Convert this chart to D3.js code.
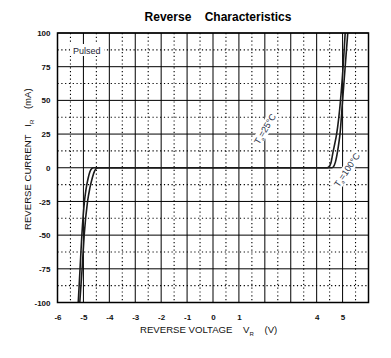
<!DOCTYPE html>
<html><head><meta charset="utf-8">
<script src="https://cdn.jsdelivr.net/npm/d3@7/dist/d3.min.js"></script>
<style>
body{margin:0;background:#fff;}
svg{display:block;font-family:"Liberation Sans",Arial,sans-serif;}
</style></head>
<body><svg id="c" width="391" height="358"></svg>
<script>
// ---- data ----
const xTickLabels = [-6,-5,-4,-3,-2,-1,0,1,4,5];
const yTickLabels = [100,75,50,25,0,-25,-50,-75,-100];
const xMajor = [-6,-5,-4,-3,-2,-1,0,1,2,3,4,5,6];
const xMinor = [-5.5,-4.5,-3.5,-2.5,-1.5,-0.5,0.5,1.5,2.5,3.5,4.5,5.5];
const yMajor = [-100,-75,-50,-25,0,25,50,75,100];
const yMinor = [-87.5,-62.5,-37.5,-12.5,12.5,37.5,62.5,87.5];
// T = 25°C curve (volts, mA)
const v25 = [-5.26,-5.2,-5.13,-5.06,-4.96,-4.9,-4.82,-4.75,-4.68,-4.6,-4.5,0,4.3,4.4,4.47,4.55,4.64,4.7,4.77,4.92,5.02,5.1,5.15];
const i25 = [-120,-100,-75,-50,-25,-16,-8,-3,-0.6,0,0,0,0,0,0.6,3.5,12.5,18,25,50,75,100,115];
// T = 100°C curve
const v100 = [-5.2,-5.14,-5.05,-4.97,-4.84,-4.75,-4.65,-4.57,-4.5,-4.43,-4.3,0,4.45,4.58,4.64,4.72,4.81,4.86,4.9,5.0,5.1,5.2,5.25];
const i100 = [-120,-100,-75,-50,-25,-15,-7,-2.5,-0.5,0,0,0,0,0,0.6,4,12.5,19,25,50,75,100,112];

const svg = d3.select("#c");
const x = d3.scaleLinear().domain([-6,6]).range([57.5,368.5]);
const y = d3.scaleLinear().domain([-100,100]).range([302.5,33]);

// title
svg.append("text").attr("x",218).attr("y",21).attr("text-anchor","middle")
  .attr("font-size",12).attr("font-weight","bold").attr("xml:space","preserve")
  .text("Reverse    Characteristics");

const g = svg.append("g");
// minor dotted grid
g.selectAll(".vmin").data(xMinor).join("line")
  .attr("x1",d=>x(d)).attr("x2",d=>x(d)).attr("y1",y(100)).attr("y2",y(-100))
  .attr("stroke","#000").attr("stroke-width",1.1).attr("stroke-dasharray","1.2,2.6");
g.selectAll(".hmin").data(yMinor).join("line")
  .attr("y1",d=>y(d)).attr("y2",d=>y(d)).attr("x1",x(-6)).attr("x2",x(6))
  .attr("stroke","#000").attr("stroke-width",1.1).attr("stroke-dasharray","1.2,2.6");
// major solid grid
g.selectAll(".vmaj").data(xMajor).join("line")
  .attr("x1",d=>x(d)).attr("x2",d=>x(d)).attr("y1",y(100)).attr("y2",y(-100))
  .attr("stroke","#000").attr("stroke-width",1);
g.selectAll(".hmaj").data(yMajor).join("line")
  .attr("y1",d=>y(d)).attr("y2",d=>y(d)).attr("x1",x(-6)).attr("x2",x(6))
  .attr("stroke","#000").attr("stroke-width",1);

// Pulsed label with white backing
svg.append("rect").attr("x",70).attr("y",44).attr("width",34).attr("height",12).attr("fill","#fff");
svg.append("text").attr("x",73).attr("y",54).attr("font-size",9).attr("fill","#1c2333").text("Pulsed");

// curves
svg.append("clipPath").attr("id","clip").append("rect")
  .attr("x",x(-6)).attr("y",y(100)).attr("width",x(6)-x(-6)).attr("height",y(-100)-y(100));
const line = d3.line().x(d=>x(d[0])).y(d=>y(d[1])).curve(d3.curveMonotoneX);
const cg = svg.append("g").attr("clip-path","url(#clip)");
cg.append("path").datum(d3.zip(v25,i25)).attr("d",line)
  .attr("fill","none").attr("stroke","#1a1a1a").attr("stroke-width",1.6);
cg.append("path").datum(d3.zip(v100,i100)).attr("d",line)
  .attr("fill","none").attr("stroke","#1a1a1a").attr("stroke-width",1.6);

// border
svg.append("rect").attr("x",x(-6)).attr("y",y(100)).attr("width",x(6)-x(-6)).attr("height",y(-100)-y(100))
  .attr("fill","none").attr("stroke","#000").attr("stroke-width",1.5);

// axes
const fmt = d => String(d);
const xa = svg.append("g").attr("transform",`translate(0,${y(-100)+9})`)
  .call(d3.axisBottom(x).tickValues(xTickLabels).tickSize(0).tickFormat(fmt));
xa.select(".domain").remove();
xa.selectAll("text").attr("font-size",8).attr("font-weight","bold").attr("fill","#111")
  .attr("font-family","'Liberation Sans',Arial,sans-serif");
const ya = svg.append("g").attr("transform",`translate(${x(-6)-4},0)`)
  .call(d3.axisLeft(y).tickValues(yTickLabels).tickSize(0).tickFormat(fmt));
ya.select(".domain").remove();
ya.selectAll("text").attr("font-size",8).attr("font-weight","bold").attr("fill","#111")
  .attr("font-family","'Liberation Sans',Arial,sans-serif");

// x title
const xt = svg.append("text").attr("x",140).attr("y",333).attr("font-size",9.6).attr("fill","#111")
  .attr("xml:space","preserve");
xt.append("tspan").text("REVERSE VOLTAGE    V");
xt.append("tspan").attr("font-size",6).attr("dy",3).text("R");
xt.append("tspan").attr("dy",-3).text("    (V)");

// y title
const yt = svg.append("text").attr("transform","translate(31,230) rotate(-90)").attr("font-size",9.6)
  .attr("fill","#111").attr("xml:space","preserve");
yt.append("tspan").text("REVERSE CURRENT   I");
yt.append("tspan").attr("font-size",6).attr("dy",3).text("R");
yt.append("tspan").attr("dy",-3).text("    (mA)");

// temperature annotations
function tempLabel(cx,cy,ang,txt,w){
  const gg = svg.append("g").attr("transform",`translate(${cx},${cy}) rotate(${ang})`);
  gg.append("rect").attr("x",-w/2).attr("y",-5.5).attr("width",w).attr("height",11).attr("fill","#fff");
  const t = gg.append("text").attr("text-anchor","middle").attr("y",3).attr("font-size",9).attr("fill","#2a3248");
  t.append("tspan").text("T");
  t.append("tspan").attr("font-size",5).attr("dy",2).text("a");
  t.append("tspan").attr("dy",-2).text("=" + txt + "°C");
}
tempLabel(265,129,-59,"25",37);
tempLabel(347,170,-56,"100",43);
</script>
</body></html>
